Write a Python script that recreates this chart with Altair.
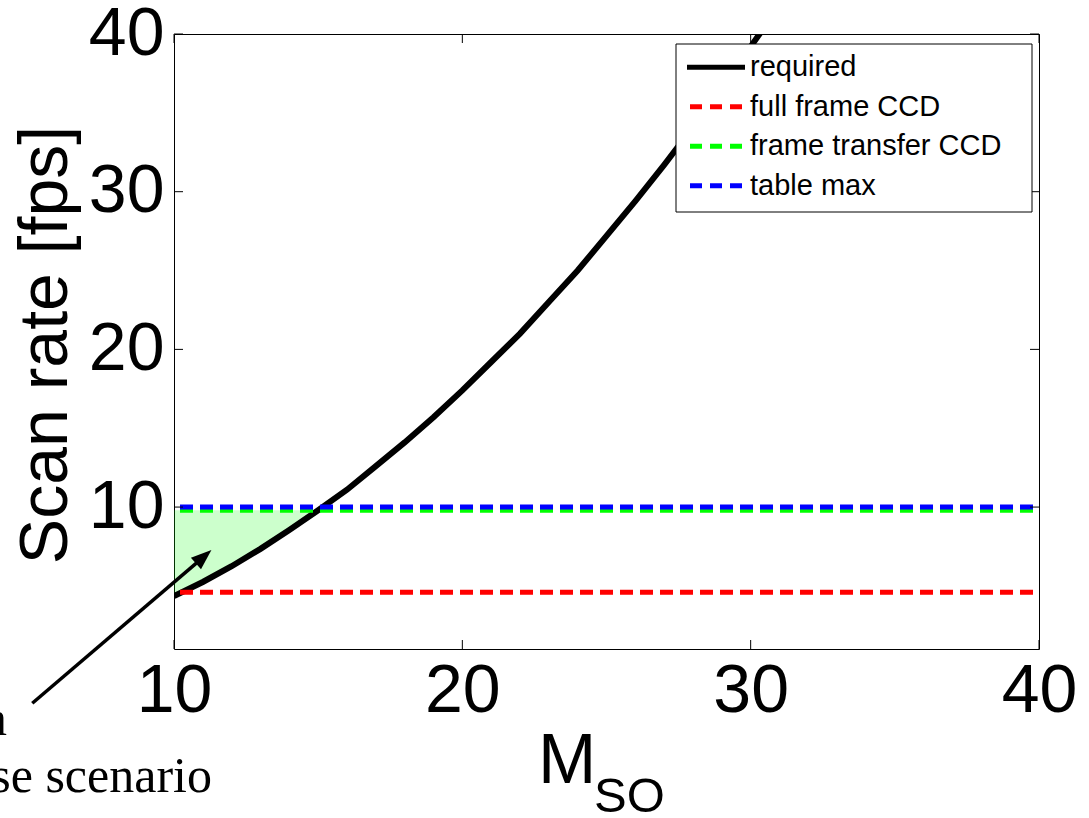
import altair as alt
import pandas as pd

# ---- data ----
M_VALUES = [10, 11, 12, 13, 14, 15, 16, 17, 18, 19, 20, 21, 22, 23, 24, 25, 26, 27, 28, 29, 30, 30.5]
REQUIRED = [4.35, 5.25, 6.25, 7.35, 8.55, 9.8, 11.1, 12.6, 14.1, 15.7, 17.4, 19.2, 21.0, 23.0,
            25.0, 27.2, 29.4, 31.7, 34.1, 36.6, 39.2, 40.5]
FULL_FRAME = 4.6
FRAME_TRANSFER = 9.8
TABLE_MAX = 10.0
X_RANGE = [10, 40]
Y_RANGE = [1, 40]
TICKS = [10, 20, 30, 40]

SERIES = ["required", "full frame CCD", "frame transfer CCD", "table max"]
COLORS = ["#000000", "#ff0000", "#00ff00", "#0000ff"]
DASHES = [[1, 0], [12, 8], [12, 8], [12, 8]]

ARROW_M = [5.085, 11.1]
ARROW_Y = [-2.44, 6.95]
ARROW_HEAD = [11.03, 6.85]

FONT = "Liberation Sans"
W, H = 865, 615

curve = pd.DataFrame({"M": M_VALUES, "rate": REQUIRED})
area_df = curve[curve["M"] <= 15].assign(top=FRAME_TRANSFER)
levels = pd.DataFrame({
    "series": SERIES[1:] * 2,
    "M": [X_RANGE[0]] * 3 + [X_RANGE[1]] * 3,
    "rate": [FULL_FRAME, FRAME_TRANSFER, TABLE_MAX] * 2,
})
ticks_df = pd.DataFrame({"v": TICKS})
arrow_df = pd.DataFrame({"M": ARROW_M, "rate": ARROW_Y})
head_df = pd.DataFrame({"M": [ARROW_HEAD[0]], "rate": [ARROW_HEAD[1]]})
legend_df = pd.DataFrame({"series": SERIES, "i": list(range(len(SERIES)))})

xs = alt.Scale(domain=X_RANGE, nice=False, zero=False)
ys = alt.Scale(domain=Y_RANGE, nice=False, zero=False)


def X(field):
    return alt.X(field, scale=xs, title=None)


def Y(field):
    return alt.Y(field, scale=ys, title=None)


area = alt.Chart(area_df).mark_area(color="#00ff00", opacity=0.2).encode(
    x=alt.X("M:Q", scale=xs, title=None,
            axis=alt.Axis(values=TICKS, labelPadding=8, labelFontSize=68, labelFont=FONT,
                          labelColor="black", ticks=False, domain=False, grid=False,
                          labelFlush=False, labelOverlap=False)),
    y=alt.Y("rate:Q", scale=ys, title=None,
            axis=alt.Axis(values=TICKS, labelPadding=10, labelFontSize=68, labelFont=FONT,
                          labelColor="black", ticks=False, domain=False, grid=False,
                          labelFlush=False, labelOverlap=False)),
    y2="top:Q",
)

req_line = alt.Chart(curve).mark_line(color="black", strokeWidth=6, clip=True).encode(
    x=X("M:Q"), y=Y("rate:Q"),
)

level_layers = [
    alt.Chart(levels).transform_filter(alt.datum.series == s)
    .mark_line(strokeWidth=5, strokeDash=[13, 7], strokeDashOffset=14, color=c)
    .encode(x=X("M:Q"), y=Y("rate:Q"))
    for s, c in zip(SERIES[1:], COLORS[1:])
]

tick_style = dict(color="black", strokeWidth=1)
xt_bottom = alt.Chart(ticks_df).mark_rule(**tick_style).encode(
    x=X("v:Q"), y=alt.value(H), y2=alt.value(H - 9))
xt_top = alt.Chart(ticks_df).mark_rule(**tick_style).encode(
    x=X("v:Q"), y=alt.value(0), y2=alt.value(9))
yt_left = alt.Chart(ticks_df).mark_rule(**tick_style).encode(
    y=Y("v:Q"), x=alt.value(0), x2=alt.value(9))
yt_right = alt.Chart(ticks_df).mark_rule(**tick_style).encode(
    y=Y("v:Q"), x=alt.value(W), x2=alt.value(W - 9))

# legend
leg_box = alt.Chart(pd.DataFrame({"a": [0]})).mark_rect(fill="white", stroke="black", strokeWidth=1).encode(
    x=alt.value(502), x2=alt.value(858), y=alt.value(10), y2=alt.value(178))
leg_base = alt.Chart(legend_df).transform_calculate(ly="33.3 + 39.5 * datum.i")
leg_lines = [
    leg_base.transform_filter(alt.datum.series == s)
    .mark_rule(color=c, strokeWidth=5, strokeDash=d if d != [1, 0] else [100, 0])
    .encode(x=alt.value(513 if d == [1, 0] else 516), x2=alt.value(571), y=alt.Y("ly:Q", scale=None))
    for s, c, d in zip(SERIES, COLORS, DASHES)
]
leg_text = leg_base.mark_text(align="left", baseline="middle", font=FONT, fontSize=29, color="black").encode(
    x=alt.value(576), y=alt.Y("ly:Q", scale=None), text="series:N")

# arrow annotation
arrow_line = alt.Chart(arrow_df).mark_line(color="black", strokeWidth=3.5, clip=False).encode(
    x=X("M:Q"), y=Y("rate:Q"))
arrow_head = alt.Chart(head_df).mark_point(
    shape="M0,-1L0.75,1L-0.75,1Z", filled=True, color="black", opacity=1, size=420, angle=49, clip=False
).encode(x=X("M:Q"), y=Y("rate:Q"))

one = pd.DataFrame({"a": [0]})
note1 = alt.Chart(one).mark_text(text="Feasible area", align="right", baseline="alphabetic",
                                 font="Liberation Serif", fontSize=50, color="black").encode(
    x=alt.value(-167), y=alt.value(701))
note2 = alt.Chart(one).mark_text(text="worst case scenario", align="right", baseline="alphabetic",
                                 font="Liberation Serif", fontSize=50, color="black").encode(
    x=alt.value(38), y=alt.value(758))

xtitle_m = alt.Chart(one).mark_text(text="M", align="left", baseline="alphabetic",
                                    font=FONT, fontSize=70, color="black").encode(
    x=alt.value(364), y=alt.value(749))
xtitle_so = alt.Chart(one).mark_text(text="SO", align="left", baseline="alphabetic",
                                     font=FONT, fontSize=49, color="black").encode(
    x=alt.value(420), y=alt.value(778))
ytitle = alt.Chart(one).mark_text(text="Scan rate [fps]", align="center", baseline="alphabetic",
                                  angle=270, font=FONT, fontSize=68, color="black").encode(
    x=alt.value(-107), y=alt.value(311))

chart = alt.layer(
    area, req_line, *level_layers,
    xt_bottom, xt_top, yt_left, yt_right,
    leg_box, *leg_lines, leg_text,
    arrow_line, arrow_head, note1, note2,
    xtitle_m, xtitle_so, ytitle,
).properties(
    width=W, height=H,
    autosize=alt.AutoSizeParams(type="none"),
    padding={"left": 174, "top": 34, "right": 50, "bottom": 169},
    background="white",
).configure_view(stroke="black", strokeWidth=1)

chart.save("out.html", embed_options={"renderer": "svg", "actions": False})
